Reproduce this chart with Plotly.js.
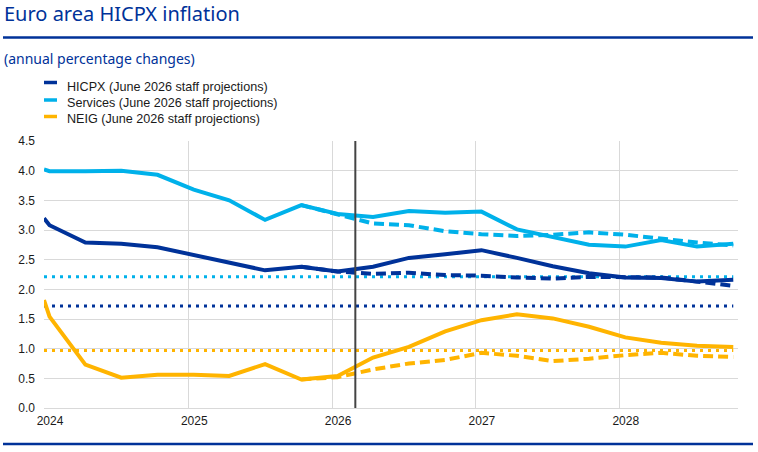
<!DOCTYPE html>
<html>
<head>
<meta charset="utf-8">
<script src="https://cdn.plot.ly/plotly-3.0.1.min.js"></script>
<style>
html,body{margin:0;padding:0;background:#fff;}
#chart{width:758px;height:452px;}
</style>
</head>
<body>
<div id="chart"></div>
<script>
// ---- data ----
var dates = ['2024-01-01','2024-01-15','2024-04-15','2024-07-15','2024-10-15',
             '2025-01-15','2025-04-15','2025-07-15','2025-10-15',
             '2026-01-15','2026-04-15','2026-07-15','2026-10-15',
             '2027-01-15','2027-04-15','2027-07-15','2027-10-15',
             '2028-01-15','2028-04-15','2028-07-15','2028-10-15'];
var hicpx    = [3.20,3.08,2.79,2.77,2.71,2.58,2.44,2.32,2.38,2.30,2.38,2.53,2.59,2.66,2.53,2.39,2.27,2.20,2.19,2.13,2.16];
var services = [4.02,3.99,3.99,4.00,3.93,3.68,3.50,3.17,3.42,3.27,3.22,3.32,3.29,3.31,3.01,2.88,2.75,2.72,2.83,2.72,2.77];
var neig     = [1.82,1.54,0.73,0.51,0.56,0.56,0.54,0.74,0.48,0.54,0.85,1.03,1.29,1.48,1.58,1.51,1.37,1.19,1.10,1.05,1.03];

var prevDates = ['2025-10-15','2026-01-15','2026-04-15','2026-07-15','2026-10-15',
                 '2027-01-15','2027-04-15','2027-07-15','2027-10-15',
                 '2028-01-15','2028-04-15','2028-07-15','2028-10-15'];
var hicpxPrev    = [2.38,2.30,2.26,2.28,2.24,2.23,2.20,2.18,2.21,2.21,2.20,2.13,2.06];
var servicesPrev = [3.42,3.27,3.11,3.08,2.98,2.93,2.90,2.92,2.96,2.92,2.85,2.79,2.74];
var neigPrev     = [0.48,0.52,0.65,0.75,0.81,0.93,0.88,0.79,0.83,0.89,0.93,0.88,0.86];

var avgDates = ['2024-01-01','2028-10-15'];
var hicpxAvg = 1.72, servicesAvg = 2.21, neigAvg = 0.97;

var cutoffDate = '2026-03-01';
var yTicks = [0,0.5,1,1.5,2,2.5,3,3.5,4,4.5];

var legendLabels = ['HICPX (June 2026 staff projections)',
                    'Services (June 2026 staff projections)',
                    'NEIG (June 2026 staff projections)'];
var titleText = 'Euro area HICPX inflation';
var subtitleText = '(annual percentage changes)';

// ---- style ----
var cHicpx = '#003299', cServ = '#00b1ea', cNeig = '#ffb400';
var W = 758, H = 452, L = 44, R = 738, T = 141, B = 408;
function px(xp){ return (xp - L) / (R - L); }
function py(yp){ return (B - yp) / (B - T); }

function dotted(val, color){
  return {x: avgDates, y: [val, val], mode: 'lines', showlegend: false, hoverinfo: 'skip',
          line: {color: color, width: 3, dash: '3px,5px'}};
}
function dashed(x, y, color){
  return {x: x, y: y, mode: 'lines', showlegend: false,
          line: {color: color, width: 4, dash: '10px,5px'}};
}
function solid(y, color, name){
  return {x: dates, y: y, mode: 'lines', name: name, showlegend: false,
          line: {color: color, width: 4}};
}

var traces = [
  dotted(hicpxAvg, cHicpx), dotted(servicesAvg, cServ), dotted(neigAvg, cNeig),
  dashed(prevDates, hicpxPrev, cHicpx), dashed(prevDates, servicesPrev, cServ), dashed(prevDates, neigPrev, cNeig),
  solid(hicpx, cHicpx, legendLabels[0]), solid(services, cServ, legendLabels[1]), solid(neig, cNeig, legendLabels[2])
];

var legendColors = [cHicpx, cServ, cNeig];
var legendMarkY = [82.5, 100, 116.5];
var legendTextY = [86.5, 103, 119];

var shapes = [
  {type:'line', xref:'x', yref:'paper', x0: cutoffDate, x1: cutoffDate, y0: 0, y1: 1,
   line:{color:'#444444', width:2}},
  {type:'line', xref:'paper', yref:'paper', x0: px(3), x1: px(753), y0: py(37.5), y1: py(37.5),
   line:{color:'#003299', width:2.5}},
  {type:'line', xref:'paper', yref:'paper', x0: px(3), x1: px(753), y0: py(444), y1: py(444),
   line:{color:'#003299', width:2.5}}
];
var annotations = [
  {xref:'paper', yref:'paper', x: px(2), y: py(14), xanchor:'left', yanchor:'middle', showarrow:false,
   text: titleText, font:{family:'Noto Sans, Open Sans, sans-serif', size:20, color:'#003299'}},
  {xref:'paper', yref:'paper', x: px(2), y: py(58.5), xanchor:'left', yanchor:'middle', showarrow:false,
   text: subtitleText, font:{family:'Noto Sans, Open Sans, sans-serif', size:14, color:'#003299'}}
];
for (var i = 0; i < 3; i++) {
  shapes.push({type:'line', xref:'paper', yref:'paper', x0: px(44), x1: px(57),
               y0: py(legendMarkY[i]), y1: py(legendMarkY[i]), line:{color: legendColors[i], width:3.5}});
  annotations.push({xref:'paper', yref:'paper', x: px(65), y: py(legendTextY[i]), xanchor:'left', yanchor:'middle',
                    showarrow:false, text: legendLabels[i],
                    font:{family:'Liberation Sans, Arial, sans-serif', size:12.6, color:'#1a1a1a'}});
}

var layout = {
  width: W, height: H,
  margin: {l: L, r: W - R, t: T, b: H - B, pad: 0},
  paper_bgcolor: '#ffffff', plot_bgcolor: '#ffffff',
  showlegend: false,
  font: {family: 'Liberation Sans, Arial, sans-serif', size: 12, color: '#1a1a1a'},
  xaxis: {type: 'date', range: ['2024-01-01', '2028-10-27'], tick0: '2024-01-01', dtick: 'M12',
          tickformat: '%Y', showgrid: true, gridcolor: '#d9d9d9', gridwidth: 1, zeroline: false,
          showline: false, ticks: '', ticklabelshift: 6, ticklabelstandoff: 4,
          tickfont: {size: 12, color: '#1a1a1a'}},
  yaxis: {range: [0, 4.5], tickvals: yTicks, tickformat: '.1f', showgrid: true, gridcolor: '#d9d9d9',
          gridwidth: 1, zeroline: true, zerolinecolor: '#d9d9d9', zerolinewidth: 1, showline: false,
          ticks: '', ticklabelstandoff: 8, tickfont: {size: 12, color: '#1a1a1a'}},
  shapes: shapes,
  annotations: annotations
};

Plotly.newPlot('chart', traces, layout, {displayModeBar: false, staticPlot: true});
</script>
</body>
</html>
